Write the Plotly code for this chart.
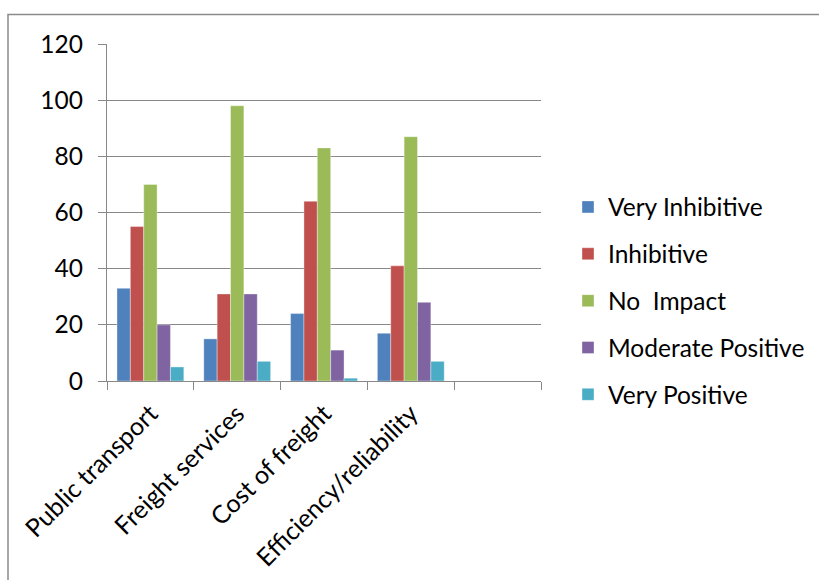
import plotly.graph_objects as go

categories = ["Public transport", "Freight services", "Cost of freight", "Efficiency/reliability"]
series_names = ["Very Inhibitive", "Inhibitive", "No  Impact", "Moderate Positive", "Very Positive"]
very_inhibitive = [33, 15, 24, 17]
inhibitive = [55, 31, 64, 41]
no_impact = [70, 98, 83, 87]
moderate_positive = [20, 31, 11, 28]
very_positive = [5, 7, 1, 7]
y_ticks = [0, 20, 40, 60, 80, 100, 120]

series_values = [very_inhibitive, inhibitive, no_impact, moderate_positive, very_positive]
colors = ["#4F81BD", "#C0504D", "#9BBB59", "#8064A2", "#4BACC6"]

W, H = 819, 580
L, R, T, B = 107, 541, 44, 381
FONT = "Lato"
FS = 24.5

x_pos = list(range(len(categories)))

fig = go.Figure()
for i, (name, vals, col) in enumerate(zip(series_names, series_values, colors)):
    fig.add_trace(go.Bar(
        x=x_pos, y=vals, name=name, legendgroup=name,
        marker=dict(color=col, line=dict(width=0.6, color="rgba(255,255,255,0.6)")),
    ))

def px_to_paper_x(px):
    return (px - L) / (R - L)

def px_to_paper_y(py):
    return (B - py) / (B - T)

fig.update_layout(
    width=W, height=H,
    margin=dict(l=L, r=W - R, t=T, b=H - B, autoexpand=False),
    paper_bgcolor="white", plot_bgcolor="white",
    font=dict(family=FONT, size=FS, color="black"),
    barmode="group", bargap=0.23, bargroupgap=0,
    legend=dict(
        x=px_to_paper_x(568), xanchor="left",
        y=px_to_paper_y(301), yanchor="middle",
        font=dict(family=FONT, size=FS, color="black"),
        tracegroupgap=12, bgcolor="rgba(0,0,0,0)",
    ),
    xaxis=dict(
        range=[-0.5, 4.5],
        tickvals=x_pos, ticktext=categories, tickangle=-45,
        ticks="", showgrid=False, zeroline=False,
        showline=True, linecolor="#888888", linewidth=1.3,
        minor=dict(tick0=-0.5, dtick=1, ticks="outside", ticklen=8,
                   tickcolor="#888888", tickwidth=1.3, showgrid=False),
        ticklabelstandoff=7,
        tickfont=dict(family=FONT, size=FS + 0.5, color="black"),
    ),
    yaxis=dict(
        range=[0, 120], tickvals=y_ticks,
        ticks="outside", ticklen=8, tickcolor="#888888", tickwidth=1.3,
        showgrid=True, gridcolor="#888888", gridwidth=1.3,
        zeroline=False, showline=True, linecolor="#888888", linewidth=1.3,
        ticklabelstandoff=10,
        tickfont=dict(family=FONT, size=FS, color="black"),
    ),
    shapes=[dict(
        type="rect", xref="paper", yref="paper",
        x0=px_to_paper_x(8), x1=px_to_paper_x(900),
        y0=px_to_paper_y(700), y1=px_to_paper_y(14.5),
        line=dict(color="#8a8a8a", width=1.5), fillcolor="rgba(0,0,0,0)",
        layer="below",
    )],
)

fig.write_html("out.html")
